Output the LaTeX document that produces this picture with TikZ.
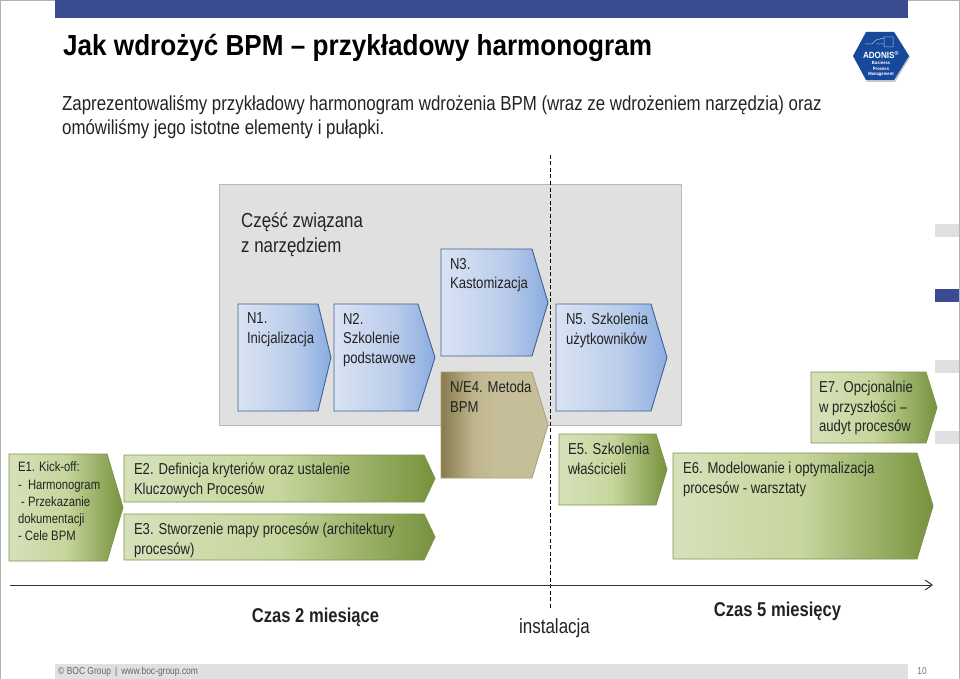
\documentclass[tikz,border=0pt]{standalone}
\usepackage{fontspec}
\setmainfont[FakeStretch=0.83]{Liberation Sans}
\newfontfamily\titlefont[FakeStretch=0.9]{Liberation Sans}
\usetikzlibrary{arrows.meta}
\definecolor{barblue}{RGB}{57,76,146}
\definecolor{panelgray}{RGB}{224,224,224}
\definecolor{textdark}{RGB}{35,35,35}
\definecolor{logoblue}{RGB}{22,72,155}
\definecolor{blA}{RGB}{218,227,244}
\definecolor{blB}{RGB}{186,204,234}
\definecolor{blC}{RGB}{138,172,224}
\definecolor{grA}{RGB}{214,225,186}
\definecolor{grB}{RGB}{198,214,156}
\definecolor{grC}{RGB}{118,146,60}
\definecolor{tnA}{RGB}{136,122,76}
\definecolor{tnB}{RGB}{190,180,140}
\definecolor{tnC}{RGB}{198,190,152}
\definecolor{blEdge}{RGB}{62,96,146}
\definecolor{grEdge}{RGB}{125,150,78}
\definecolor{tnEdge}{RGB}{172,163,122}
\pgfdeclarehorizontalshading{blueg}{100bp}{color(0bp)=(blA);color(25bp)=(blA);color(55bp)=(blB);color(75bp)=(blC);color(100bp)=(blC)}
\pgfdeclarehorizontalshading{greeng}{100bp}{color(0bp)=(grA);color(25bp)=(grA);color(50bp)=(grB);color(75bp)=(grC);color(100bp)=(grC)}
\pgfdeclarehorizontalshading{tang}{100bp}{color(0bp)=(tnA);color(25bp)=(tnA);color(40bp)=(tnB);color(50bp)=(tnC);color(75bp)=(tnC);color(100bp)=(tnC)}
\tikzset{
  bluestep/.style={shading=blueg,draw=blEdge,line width=0.9pt},
  greenstep/.style={shading=greeng,draw=grEdge,line width=0.9pt},
  tanstep/.style={shading=tang,draw=tnEdge,line width=0.9pt},
  lbl/.style={anchor=north west,align=left,inner sep=0pt,outer sep=0pt,text=textdark,font=\fontsize{15.8}{19.6}\selectfont},
  smalllbl/.style={lbl,font=\fontsize{13.6}{17.2}\selectfont},
  boldlbl/.style={anchor=center,inner sep=0pt,text=textdark,font=\fontsize{20}{24}\bfseries\selectfont},
}
% x1 x2 x3 y1 y2 style
\newcommand{\stepshape}[6]{\path[#6] (#1,#4) -- (#2,#4) -- (#3,{(#4+#5)/2}) -- (#2,#5) -- (#1,#5) -- cycle;}
\begin{document}
\begin{tikzpicture}[x=1pt,y=-1pt]
\useasboundingbox (0,0) rectangle (960,679);
\fill[white] (0,0) rectangle (960,679);
\draw[gray!60,line width=1pt] (0.5,0) -- (0.5,679);
\draw[gray!60,line width=1pt] (959.5,0) -- (959.5,679);
\draw[gray!60,line width=1pt] (0,0.5) -- (960,0.5);
% header
\fill[barblue] (55,0) rectangle (908,18);
\node[anchor=base west,inner sep=0pt,text=black,font=\fontsize{29}{32}\titlefont\bfseries\selectfont] (title) at (63,56) {Jak wdrożyć BPM – przykładowy harmonogram};
\node[anchor=north west,align=left,inner sep=0pt,text=textdark,font=\fontsize{20.3}{24}\selectfont] (intro) at (62,95) {Zaprezentowaliśmy przykładowy harmonogram wdrożenia BPM (wraz ze wdrożeniem narzędzia) oraz\\omówiliśmy jego istotne elementy i pułapki.};
% logo
\fill[gray!45] (854,57) -- (867,33) -- (895,33) -- (910,57) -- (895,82) -- (867,82) -- cycle;
\fill[logoblue] (853,56) -- (866,32) -- (894,32) -- (909,56) -- (894,80) -- (866,80) -- cycle;
\draw[white!65!logoblue,line width=0.5pt] (865,44) -- (872,44) -- (876,40) -- (884,38) (876,44) -- (884,44) (884,37) rectangle (893,47);
\node[inner sep=0pt,text=white,font=\fontsize{9}{9}\titlefont\bfseries\selectfont] (logoname) at (881,55) {ADONIS\textsuperscript{®}};
\node[inner sep=0pt,text=white,align=center,font=\fontsize{4.6}{5.2}\titlefont\bfseries\selectfont] (logosub) at (881,69) {Business\\Process\\Management};
% side tabs
\fill[panelgray] (935,224) rectangle (959,237);
\fill[barblue] (935,289) rectangle (959,302);
\fill[panelgray] (935,360) rectangle (959,373);
\fill[panelgray] (935,431) rectangle (959,444);
% gray panel
\path[fill=panelgray,draw=gray!55,line width=0.8pt] (219,184) rectangle (681,425);
\node[anchor=north west,align=left,inner sep=0pt,text=textdark,font=\fontsize{20.3}{25}\selectfont] (ptitle) at (241,212) {Część związana\\z narzędziem};
% steps
\stepshape{238}{318}{331}{304}{411}{bluestep}
\stepshape{334}{418}{435}{304}{411}{bluestep}
\stepshape{441}{532}{548}{249}{356}{bluestep}
\stepshape{441}{532}{548}{372}{478}{tanstep}
\stepshape{556}{651}{667}{304}{411}{bluestep}
\stepshape{9}{107}{123}{454}{561}{greenstep}
\stepshape{124}{424}{435}{455}{502}{greenstep}
\stepshape{124}{424}{435}{514}{560}{greenstep}
\stepshape{559}{656}{667}{434}{505}{greenstep}
\stepshape{673}{917}{933}{453}{559}{greenstep}
\stepshape{811}{926}{937}{372}{443}{greenstep}
% dashed line and axis
\coordinate (dtop) at (550,155);
\coordinate (dbot) at (550,610);
\draw[black,line width=0.9pt,dash pattern=on 4pt off 2.5pt] (dtop) -- (dbot);
\coordinate (ax0) at (10,585);
\coordinate (ax1) at (933,585);
\draw[black!80,line width=1pt,-{Straight Barb[length=7pt,width=10pt]}] (ax0) -- (ax1);
% labels
\node[lbl] (n1) at (247,313) {N1.\\Inicjalizacja};
\node[lbl] (n2) at (343,313) {N2.\\Szkolenie\\podstawowe};
\node[lbl] (n3) at (450,258) {N3.\\Kastomizacja};
\node[lbl] (n4) at (450,381) {N/E4. Metoda\\BPM};
\node[lbl] (n5) at (566,313) {N5. Szkolenia\\użytkowników};
\node[smalllbl] (e1) at (18,462) {E1. Kick-off:\\-\ \ Harmonogram\\\ - Przekazanie\\dokumentacji\\- Cele BPM};
\node[lbl] (e2) at (134,463) {E2. Definicja kryteriów oraz ustalenie\\Kluczowych Procesów};
\node[lbl] (e3) at (134,523) {E3. Stworzenie mapy procesów (architektury\\procesów)};
\node[lbl] (e5) at (568,443) {E5. Szkolenia\\właściciel{i}};
\node[lbl] (e6) at (683,462) {E6. Modelowanie i optymalizacja\\procesów - warsztaty};
\node[lbl] (e7) at (819,381) {E7. Opcjonalnie\\w przyszłości –\\audyt procesów};
% time labels
\node[boldlbl] (t1) at (315.5,617) {Czas 2 miesiące};
\node[anchor=center,inner sep=0pt,text=textdark,font=\fontsize{20.5}{24}\selectfont] (t2) at (554.5,628) {instalacja};
\node[boldlbl] (t3) at (777.5,611) {Czas 5 miesięcy};
% footer
\fill[panelgray] (55,664) rectangle (908,679);
\node[anchor=west,inner sep=0pt,text=black!60,font=\fontsize{10.2}{12}\selectfont] (foot) at (58,671.5) {© BOC Group \,|\, www.boc-group.com};
\node[anchor=center,inner sep=0pt,text=black!55,font=\fontsize{10}{12}\selectfont] (page) at (922,671) {10};
\end{tikzpicture}
\end{document}
